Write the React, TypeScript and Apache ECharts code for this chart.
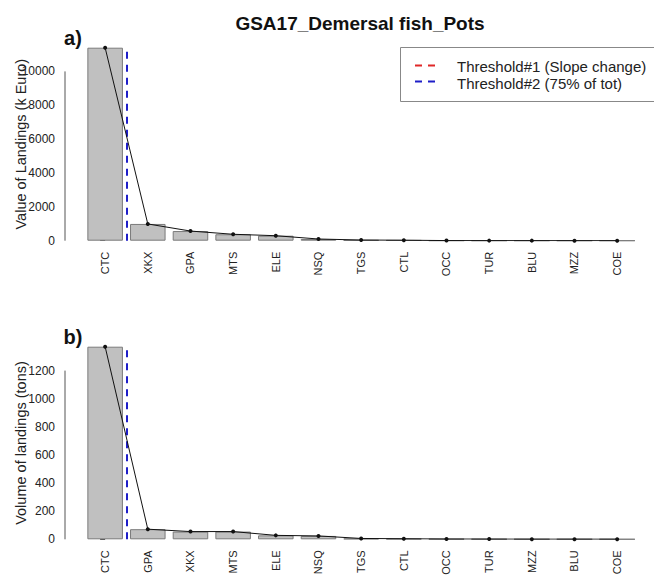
import React, { useEffect, useRef } from 'react';
import * as echarts from 'echarts';

const categoriesA = ['CTC', 'XKX', 'GPA', 'MTS', 'ELE', 'NSQ', 'TGS', 'CTL', 'OCC', 'TUR', 'BLU', 'MZZ', 'COE'];
const valuesA = [11400, 990, 570, 380, 295, 100, 40, 30, 8, 5, 4, 3, 2];
const categoriesB = ['CTC', 'GPA', 'XKX', 'MTS', 'ELE', 'NSQ', 'TGS', 'CTL', 'OCC', 'TUR', 'MZZ', 'BLU', 'COE'];
const valuesB = [1370, 72, 55, 55, 28, 24, 6, 4, 2, 1.5, 1, 1, 0.8];
const yTicksA = [0, 2000, 4000, 6000, 8000, 10000];
const yTicksB = [0, 200, 400, 600, 800, 1000, 1200];
// threshold positions, in rank units (0.5 = between 1st and 2nd species)
const threshold2A = 0.5;
const threshold2B = 0.5;
const titleText = 'GSA17_Demersal fish_Pots';
const yNameA = 'Value of Landings (k Euro)';
const yNameB = 'Volume of landings (tons)';
const panelLabels = ['a)', 'b)'];
const legendItems = ['Threshold#1 (Slope change)', 'Threshold#2 (75% of tot)'];
const legendColors = ['#e02828', '#1e1ec8'];

const FONT = 'Liberation Sans, Arial, sans-serif';
const AXIS_X = 65;
const GRID_LEFT = 83.8;
const GRID_RIGHT = 15.5;

function yAxisCfg(gridIndex: number, max: number, ticks: number[], name: string) {
  return {
    type: 'value',
    gridIndex,
    min: 0,
    max,
    offset: GRID_LEFT - AXIS_X,
    name,
    nameLocation: 'middle',
    nameGap: 37,
    nameMoveOverlap: false,
    nameTextStyle: { fontSize: 14.5, color: '#222', fontFamily: FONT },
    axisLine: { show: false },
    axisTick: { show: true, length: 5, lineStyle: { color: '#555' }, customValues: ticks },
    axisLabel: {
      customValues: ticks,
      margin: 10,
      fontSize: 12,
      color: '#222',
      fontFamily: FONT,
      formatter: (v: number) => String(v),
    },
    splitLine: { show: false },
  };
}

function catAxis(gridIndex: number, cats: string[]) {
  return {
    type: 'category',
    gridIndex,
    data: cats,
    axisLine: { show: false },
    axisTick: { show: false },
    axisLabel: { rotate: 90, margin: 11, fontSize: 11, color: '#222', fontFamily: FONT, interval: 0 },
  };
}

function valAxis(gridIndex: number, n: number) {
  return { type: 'value', gridIndex, min: -0.5, max: n - 0.5, show: false };
}

function seriesFor(xCat: number, xVal: number, yIdx: number, vals: number[], thr: number) {
  const max = Math.max(...vals);
  return [
    {
      type: 'bar',
      xAxisIndex: xCat,
      yAxisIndex: yIdx,
      data: vals,
      barCategoryGap: '16.7%',
      itemStyle: { color: '#c0c0c0', borderColor: '#7a7a7a', borderWidth: 1 },
      silent: true,
    },
    {
      type: 'line',
      xAxisIndex: xCat,
      yAxisIndex: yIdx,
      data: vals,
      symbol: 'circle',
      symbolSize: 4,
      itemStyle: { color: '#111' },
      lineStyle: { color: '#111', width: 1 },
      z: 5,
      silent: true,
    },
    {
      type: 'line',
      xAxisIndex: xVal,
      yAxisIndex: yIdx,
      data: [],
      z: 6,
      markLine: {
        silent: true,
        symbol: 'none',
        label: { show: false },
        lineStyle: { color: legendColors[1], type: [7, 6], width: 2 },
        data: [[{ coord: [thr, 0] }, { coord: [thr, max] }]],
      },
    },
  ];
}

export default function App() {
  const ref = useRef<HTMLDivElement>(null);
  useEffect(() => {
    if (!ref.current) return;
    const chart = echarts.init(ref.current, null, { renderer: 'svg' });
    const option: any = {
      animation: false,
      backgroundColor: '#fff',
      textStyle: { fontFamily: FONT },
      grid: [
        { left: GRID_LEFT, right: GRID_RIGHT, top: 47.7, height: 193, outerBoundsMode: 'none' },
        { left: GRID_LEFT, right: GRID_RIGHT, top: 346.7, height: 192.6, outerBoundsMode: 'none' },
      ],
      xAxis: [catAxis(0, categoriesA), valAxis(0, categoriesA.length), catAxis(1, categoriesB), valAxis(1, categoriesB.length)],
      yAxis: [
        yAxisCfg(0, Math.max(...valuesA), yTicksA, yNameA),
        yAxisCfg(1, Math.max(...valuesB), yTicksB, yNameB),
      ],
      series: [...seriesFor(0, 1, 0, valuesA, threshold2A), ...seriesFor(2, 3, 1, valuesB, threshold2B)],
    };
    chart.setOption(option);

    const px = (axis: number, v: number) => {
      const r = chart.convertToPixel({ yAxisIndex: axis } as any, v) as any;
      return Array.isArray(r) ? r[1] : r;
    };
    const yA0 = px(0, yTicksA[0]);
    const yA1 = px(0, yTicksA[yTicksA.length - 1]);
    const yB0 = px(1, yTicksB[0]);
    const yB1 = px(1, yTicksB[yTicksB.length - 1]);

    chart.setOption({
      graphic: [
        {
          type: 'text', x: 360, y: 23,
          style: { text: titleText, font: `bold 19px ${FONT}`, fill: '#111', textAlign: 'center', textVerticalAlign: 'middle' },
        },
        {
          type: 'text', x: 73, y: 38,
          style: { text: panelLabels[0], font: `bold 20px ${FONT}`, fill: '#111', textAlign: 'center', textVerticalAlign: 'middle' },
        },
        {
          type: 'text', x: 73, y: 337,
          style: { text: panelLabels[1], font: `bold 20px ${FONT}`, fill: '#111', textAlign: 'center', textVerticalAlign: 'middle' },
        },
        { type: 'line', shape: { x1: AXIS_X, y1: yA0, x2: AXIS_X, y2: yA1 }, style: { stroke: '#555', lineWidth: 1 } },
        { type: 'line', shape: { x1: AXIS_X, y1: yB0, x2: AXIS_X, y2: yB1 }, style: { stroke: '#555', lineWidth: 1 } },
        { type: 'rect', shape: { x: 400.5, y: 47.5, width: 260, height: 54 }, style: { fill: '#fff', stroke: '#888', lineWidth: 1 }, z: 10 },
        { type: 'line', shape: { x1: 415, y1: 65.5, x2: 437, y2: 65.5 }, style: { stroke: legendColors[0], lineWidth: 2, lineDash: [7, 6] }, z: 11 },
        { type: 'line', shape: { x1: 415, y1: 81.5, x2: 437, y2: 81.5 }, style: { stroke: legendColors[1], lineWidth: 2, lineDash: [7, 6] }, z: 11 },
        {
          type: 'text', x: 457, y: 66, z: 11,
          style: { text: legendItems[0], font: `15px ${FONT}`, fill: '#222', textVerticalAlign: 'middle' },
        },
        {
          type: 'text', x: 457, y: 83, z: 11,
          style: { text: legendItems[1], font: `15px ${FONT}`, fill: '#222', textVerticalAlign: 'middle' },
        },
      ],
    });
    return () => chart.dispose();
  }, []);
  return <div ref={ref} style={{ position: 'fixed', left: 0, top: 0, width: 654, height: 575, background: '#fff' }} />;
}
